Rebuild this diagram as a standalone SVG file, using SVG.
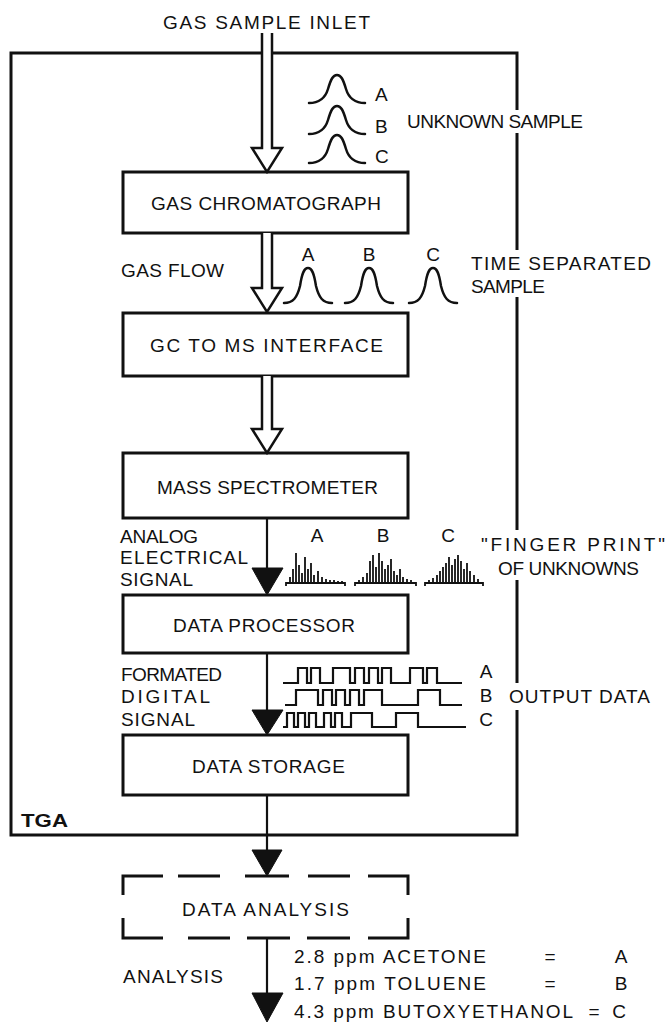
<svg xmlns="http://www.w3.org/2000/svg" width="668" height="1023" viewBox="0 0 668 1023">
<style>
.t{font-family:"Liberation Sans",Arial,sans-serif;font-size:19px;fill:#111}
.tm{text-anchor:middle}
.box{fill:none;stroke:#111;stroke-width:3}
.ln{fill:none;stroke:#111;stroke-width:2.2}
.dbl{fill:#fff;stroke:#111;stroke-width:2.5;stroke-linejoin:miter}
.fill{fill:#111;stroke:#111;stroke-width:1}
.crv{fill:none;stroke:#111;stroke-width:2.5;stroke-linecap:round}
.sig{fill:none;stroke:#111;stroke-width:2.2}
.spk{fill:none;stroke:#111;stroke-width:1.8}
</style>
<defs>
<path id="peakS" d="M-28,28 C-18,28 -12,24 -9,14 C-6,4 -4,0 0,0 C4,0 6,4 9,14 C12,24 18,28 28,28"/>
<path id="peakT" d="M-24,35 C-15,35 -11,30 -8,18 C-6,5 -4,0 0,0 C4,0 6,5 8,18 C11,30 15,35 24,35"/>
</defs>
<rect width="668" height="1023" fill="#fff"/>

<g id="tga">
<path class="box" d="M262,53 H11 V835 H517 V710 M517,683 V580 M517,530 V297 M517,250 V133 M517,110 V53 H272"/>
<text class="t" x="21" y="827" font-size="23" font-weight="bold" textLength="47" lengthAdjust="spacingAndGlyphs">TGA</text>
</g>

<g id="gc">
<rect class="box" x="123" y="172" width="285" height="61"/>
<text class="t tm" x="266" y="210" textLength="230" lengthAdjust="spacing">GAS CHROMATOGRAPH</text>
</g>
<g id="gcms">
<rect class="box" x="123" y="313" width="285" height="63"/>
<text class="t" x="150" y="352" textLength="233" lengthAdjust="spacing">GC TO MS INTERFACE</text>
</g>
<g id="ms">
<rect class="box" x="123" y="453" width="285" height="65"/>
<text class="t" x="157" y="494" textLength="221" lengthAdjust="spacing">MASS SPECTROMETER</text>
</g>
<g id="dp">
<rect class="box" x="123" y="595" width="285" height="58"/>
<text class="t" x="173" y="632" textLength="182" lengthAdjust="spacing">DATA PROCESSOR</text>
</g>
<g id="ds">
<rect class="box" x="123" y="735" width="285" height="60"/>
<text class="t" x="192" y="773" textLength="153" lengthAdjust="spacing">DATA STORAGE</text>
</g>
<g id="da">
<path class="box" d="M123,895 V876 H163 M178,876 H220 M245,876 H289 M308,876 H350 M368,876 H408 V895 M123,918 V938 H163 M188,938 H230 M247,938 H290 M307,938 H350 M368,938 H408 V918"/>
<text class="t" x="182" y="916" textLength="167" lengthAdjust="spacing">DATA ANALYSIS</text>
</g>

<g id="connectors">
<path class="dbl" d="M262,33 V148 H252 L267,172 L282,148 H272 V33"/>
<path class="dbl" d="M262,233 V288 H252 L267,312 L282,288 H272 V233"/>
<path class="dbl" d="M262,376 V429 H252 L267,453 L282,429 H272 V376"/>
<path class="ln" d="M267,518 V570"/>
<path class="fill" d="M252,568 H283 L267,595 Z"/>
<path class="ln" d="M267,653 V712"/>
<path class="fill" d="M252,710 H283 L267,735 Z"/>
<path class="ln" d="M267,795 V852"/>
<path class="fill" d="M252,850 H282 L267,876 Z"/>
<path class="ln" d="M267,938 V995"/>
<path class="fill" d="M252,993 H283 L267,1022 Z"/>
</g>

<g id="annotations">
<text class="t" x="163" y="29" textLength="207" lengthAdjust="spacing">GAS SAMPLE INLET</text>

<use href="#peakS" class="crv" x="337" y="75"/>
<use href="#peakS" class="crv" x="337" y="106"/>
<use href="#peakS" class="crv" x="337" y="135"/>
<text class="t" x="375" y="101">A</text>
<text class="t" x="375" y="133">B</text>
<text class="t" x="375" y="163">C</text>
<text class="t" x="407" y="128" textLength="176" lengthAdjust="spacing">UNKNOWN SAMPLE</text>

<text class="t" x="121" y="277" textLength="103" lengthAdjust="spacing">GAS FLOW</text>
<use href="#peakT" class="crv" x="308" y="268"/>
<use href="#peakT" class="crv" x="369" y="268"/>
<use href="#peakT" class="crv" x="433" y="268"/>
<text class="t tm" x="308" y="261">A</text>
<text class="t tm" x="369" y="261">B</text>
<text class="t tm" x="433" y="261">C</text>
<text class="t" x="471" y="270" textLength="180" lengthAdjust="spacing">TIME SEPARATED</text>
<text class="t" x="471" y="293" textLength="74" lengthAdjust="spacing">SAMPLE</text>

<text class="t" x="120" y="543" textLength="78" lengthAdjust="spacing">ANALOG</text>
<text class="t" x="120" y="564" textLength="128" lengthAdjust="spacing">ELECTRICAL</text>
<text class="t" x="120" y="586" textLength="73" lengthAdjust="spacing">SIGNAL</text>
<text class="t tm" x="317" y="542">A</text>
<text class="t tm" x="383" y="542">B</text>
<text class="t tm" x="448" y="542">C</text>
<path class="spk" d="M286,586 V583 H345 V586 M290,583v-6 M293,583v-14 M296,583v-30 M299,583v-18 M302,583v-10 M305,583v-26 M308,583v-14 M311,583v-20 M314,583v-8 M318,583v-12 M322,583v-6 M326,583v-4 M330,583v-3 M334,583v-3 M338,583v-2 M342,583v-2"/>
<path class="spk" d="M355,586 V583 H416 V586 M359,583v-3 M363,583v-6 M367,583v-10 M370,583v-22 M373,583v-28 M376,583v-16 M379,583v-30 M382,583v-22 M385,583v-14 M388,583v-18 M391,583v-24 M394,583v-12 M397,583v-8 M400,583v-14 M403,583v-6 M407,583v-4 M411,583v-3"/>
<path class="spk" d="M425,586 V583 H483 V586 M429,583v-3 M433,583v-5 M437,583v-8 M440,583v-12 M443,583v-16 M446,583v-20 M449,583v-26 M452,583v-18 M455,583v-24 M458,583v-28 M461,583v-22 M464,583v-14 M467,583v-20 M470,583v-12 M474,583v-8 M478,583v-4"/>
<text class="t" x="481" y="551" textLength="184" lengthAdjust="spacing">"FINGER PRINT"</text>
<text class="t" x="498" y="575" textLength="141" lengthAdjust="spacing">OF UNKNOWNS</text>

<text class="t" x="121" y="681" textLength="101" lengthAdjust="spacing">FORMATED</text>
<text class="t" x="121" y="703" textLength="89" lengthAdjust="spacing">DIGITAL</text>
<text class="t" x="121" y="726" textLength="74" lengthAdjust="spacing">SIGNAL</text>
<path class="sig" d="M283,683 H298 V668 H307 V683 H311 V668 H320 V683 H333 V668 H350 V683 H355 V668 H364 V683 H369 V668 H378 V683 H382 V668 H391 V683 H410 V668 H423 V683 H427 V668 H437 V683 H462"/>
<path class="sig" d="M285,705 H296 V690 H318 V705 H323 V690 H332 V705 H336 V690 H345 V705 H350 V690 H359 V705 H364 V690 H382 V705 H418 V690 H440 V705 H462"/>
<path class="sig" d="M283,727 H287 V713 H294 V727 H298 V713 H305 V727 H309 V713 H316 V727 H324 V713 H331 V727 H335 V713 H342 V727 H351 V713 H372 V727 H396 V713 H418 V727 H466"/>
<text class="t tm" x="486" y="678">A</text>
<text class="t tm" x="486" y="702">B</text>
<text class="t tm" x="486" y="726">C</text>
<text class="t" x="509" y="703" textLength="141" lengthAdjust="spacing">OUTPUT DATA</text>

<text class="t" x="123" y="983" textLength="100" lengthAdjust="spacing">ANALYSIS</text>
<text class="t" x="294" y="963" textLength="192" lengthAdjust="spacing">2.8 ppm ACETONE</text>
<text class="t" x="294" y="990" textLength="192" lengthAdjust="spacing">1.7 ppm TOLUENE</text>
<text class="t" x="294" y="1018" textLength="279" lengthAdjust="spacing">4.3 ppm BUTOXYETHANOL</text>
<text class="t tm" x="550" y="963">=</text>
<text class="t tm" x="550" y="990">=</text>
<text class="t tm" x="594" y="1018">=</text>
<text class="t tm" x="621" y="963">A</text>
<text class="t tm" x="621" y="990">B</text>
<text class="t tm" x="619" y="1018">C</text>
</g>
</svg>
